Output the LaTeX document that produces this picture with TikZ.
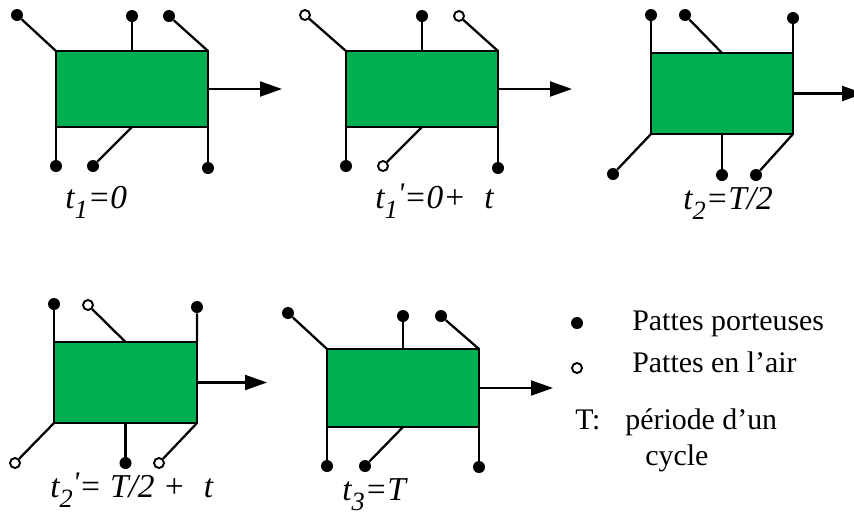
\documentclass[tikz,border=0pt]{standalone}
\usepackage{fontspec}
\setmainfont{Liberation Serif}
\usetikzlibrary{arrows.meta}
\definecolor{gaitGreen}{HTML}{00B050}
\newcommand{\idx}[1]{\raisebox{-0.32em}{\fontsize{15}{15}\selectfont #1}}
\newcommand{\idxp}[2]{\raisebox{-0.32em}{\fontsize{15}{15}\selectfont #1}\raisebox{0.15em}{\fontsize{17}{17}\selectfont #2}}
\tikzset{
  body/.style 2 args={draw=black,fill=gaitGreen,line width=1.3pt,inner sep=0pt,outer sep=0pt,
    minimum width=#1*0.2mm,minimum height=#2*0.2mm},
  leg/.style={line width=1.3pt},
  stand/.style={circle,fill=black,inner sep=0pt,minimum size=2.4mm},
  lifted/.style={circle,draw=black,fill=white,line width=1.1pt,inner sep=0pt,minimum size=2mm},
  move/.style={line width=1.3pt,-{Triangle[length=12.5pt,width=8.5pt]}},
  instant/.style={anchor=base west,inner sep=0pt,font=\fontsize{19}{22}\selectfont\itshape},
  legend/.style={anchor=base west,inner sep=0pt,font=\fontsize{17}{20}\selectfont}
}

\begin{document}
\begin{tikzpicture}[x=0.2mm,y=-0.2mm]
  \useasboundingbox (0,0) rectangle (854,521);

  % t1 = 0
  \node[body={152}{76}] (b1) at (132,89) {};
  \node[stand] (f1a) at (17,15) {};
  \node[stand] (f1b) at (132,16) {};
  \node[stand] (f1c) at (169,16) {};
  \node[stand] (f1d) at (56,166) {};
  \node[stand] (f1e) at (93,166) {};
  \node[stand] (f1f) at (208,168) {};
  \draw[leg] (b1.north west) -- (f1a);
  \draw[leg] (b1.north) -- (f1b);
  \draw[leg] (b1.north east) -- (f1c);
  \draw[leg] (b1.south west) -- (f1d);
  \draw[leg] (b1.south) -- (f1e);
  \draw[leg] (b1.south east) -- (f1f);
  \coordinate (m1) at (282,89);
  \draw[move] (b1.east) -- (m1);
  \node[instant] (l1) at (65,208) {t\idx{1}=0};

  % t1' = 0 + t
  \node[body={152}{76}] (b2) at (422,89) {};
  \node[lifted] (f2a) at (305,15) {};
  \node[stand] (f2b) at (422,16) {};
  \node[lifted] (f2c) at (459,16) {};
  \node[stand] (f2d) at (346,166) {};
  \node[lifted] (f2e) at (383,166) {};
  \node[stand] (f2f) at (498,168) {};
  \draw[leg] (b2.north west) -- (f2a);
  \draw[leg] (b2.north) -- (f2b);
  \draw[leg] (b2.north east) -- (f2c);
  \draw[leg] (b2.south west) -- (f2d);
  \draw[leg] (b2.south) -- (f2e);
  \draw[leg] (b2.south east) -- (f2f);
  \coordinate (m2) at (572,89);
  \draw[move] (b2.east) -- (m2);
  \node[instant] (l2) at (375,208) {t\idxp{1}{\textquotesingle}=0+\hspace{0.55em}t};

  % t2 = T/2
  \node[body={142}{81}] (b3) at (722,93.5) {};
  \node[stand] (f3a) at (651,15) {};
  \node[stand] (f3b) at (685,15) {};
  \node[stand] (f3c) at (793,18) {};
  \node[stand] (f3d) at (613,174) {};
  \node[stand] (f3e) at (722,175) {};
  \node[stand] (f3f) at (756,175) {};
  \draw[leg] (b3.north west) -- (f3a);
  \draw[leg] (b3.north) -- (f3b);
  \draw[leg] (b3.north east) -- (f3c);
  \draw[leg] (b3.south west) -- (f3d);
  \draw[leg] (b3.south) -- (f3e);
  \draw[leg] (b3.south east) -- (f3f);
  \coordinate (m3) at (864,93.5);
  \draw[move] (b3.east) -- (m3);
  \node[instant] (l3) at (683,209) {t\idx{2}=T/2};

  % t2' = T/2 + t
  \node[body={143}{81}] (b4) at (125.5,382.5) {};
  \node[stand] (f4a) at (54,304) {};
  \node[lifted] (f4b) at (88,305) {};
  \node[stand] (f4c) at (197,307) {};
  \node[lifted] (f4d) at (15,463) {};
  \node[stand] (f4e) at (125.5,463) {};
  \node[lifted] (f4f) at (159,463) {};
  \draw[leg] (b4.north west) -- (f4a);
  \draw[leg] (b4.north) -- (f4b);
  \draw[leg] (b4.north east) -- (f4c);
  \draw[leg] (b4.south west) -- (f4d);
  \draw[leg] (b4.south) -- (f4e);
  \draw[leg] (b4.south east) -- (f4f);
  \coordinate (m4) at (267,382.5);
  \draw[move] (b4.east) -- (m4);
  \node[instant] (l4) at (50,497) {t\idxp{2}{\textquotesingle}= T/2 +\hspace{0.55em}t};

  % t3 = T
  \node[body={152}{78}] (b5) at (403,388) {};
  \node[stand] (f5a) at (288,313) {};
  \node[stand] (f5b) at (403,316) {};
  \node[stand] (f5c) at (441,316) {};
  \node[stand] (f5d) at (327,466) {};
  \node[stand] (f5e) at (365,466) {};
  \node[stand] (f5f) at (479,467) {};
  \draw[leg] (b5.north west) -- (f5a);
  \draw[leg] (b5.north) -- (f5b);
  \draw[leg] (b5.north east) -- (f5c);
  \draw[leg] (b5.south west) -- (f5d);
  \draw[leg] (b5.south) -- (f5e);
  \draw[leg] (b5.south east) -- (f5f);
  \coordinate (m5) at (553,388);
  \draw[move] (b5.east) -- (m5);
  \node[instant] (l5) at (342,500) {t\idx{3}=T};

  % legend
  \node[stand] (k1) at (577,323) {};
  \node[legend] (k1t) at (632,330) {Pattes porteuses};
  \node[lifted] (k2) at (577,368) {};
  \node[legend] (k2t) at (632,372) {Pattes en l’air};
  \node[legend] (k3) at (575,429) {T:};
  \node[legend] (k3t) at (625,429) {période d’un};
  \node[legend] (k3u) at (645,465) {cycle};
\end{tikzpicture}
\end{document}
